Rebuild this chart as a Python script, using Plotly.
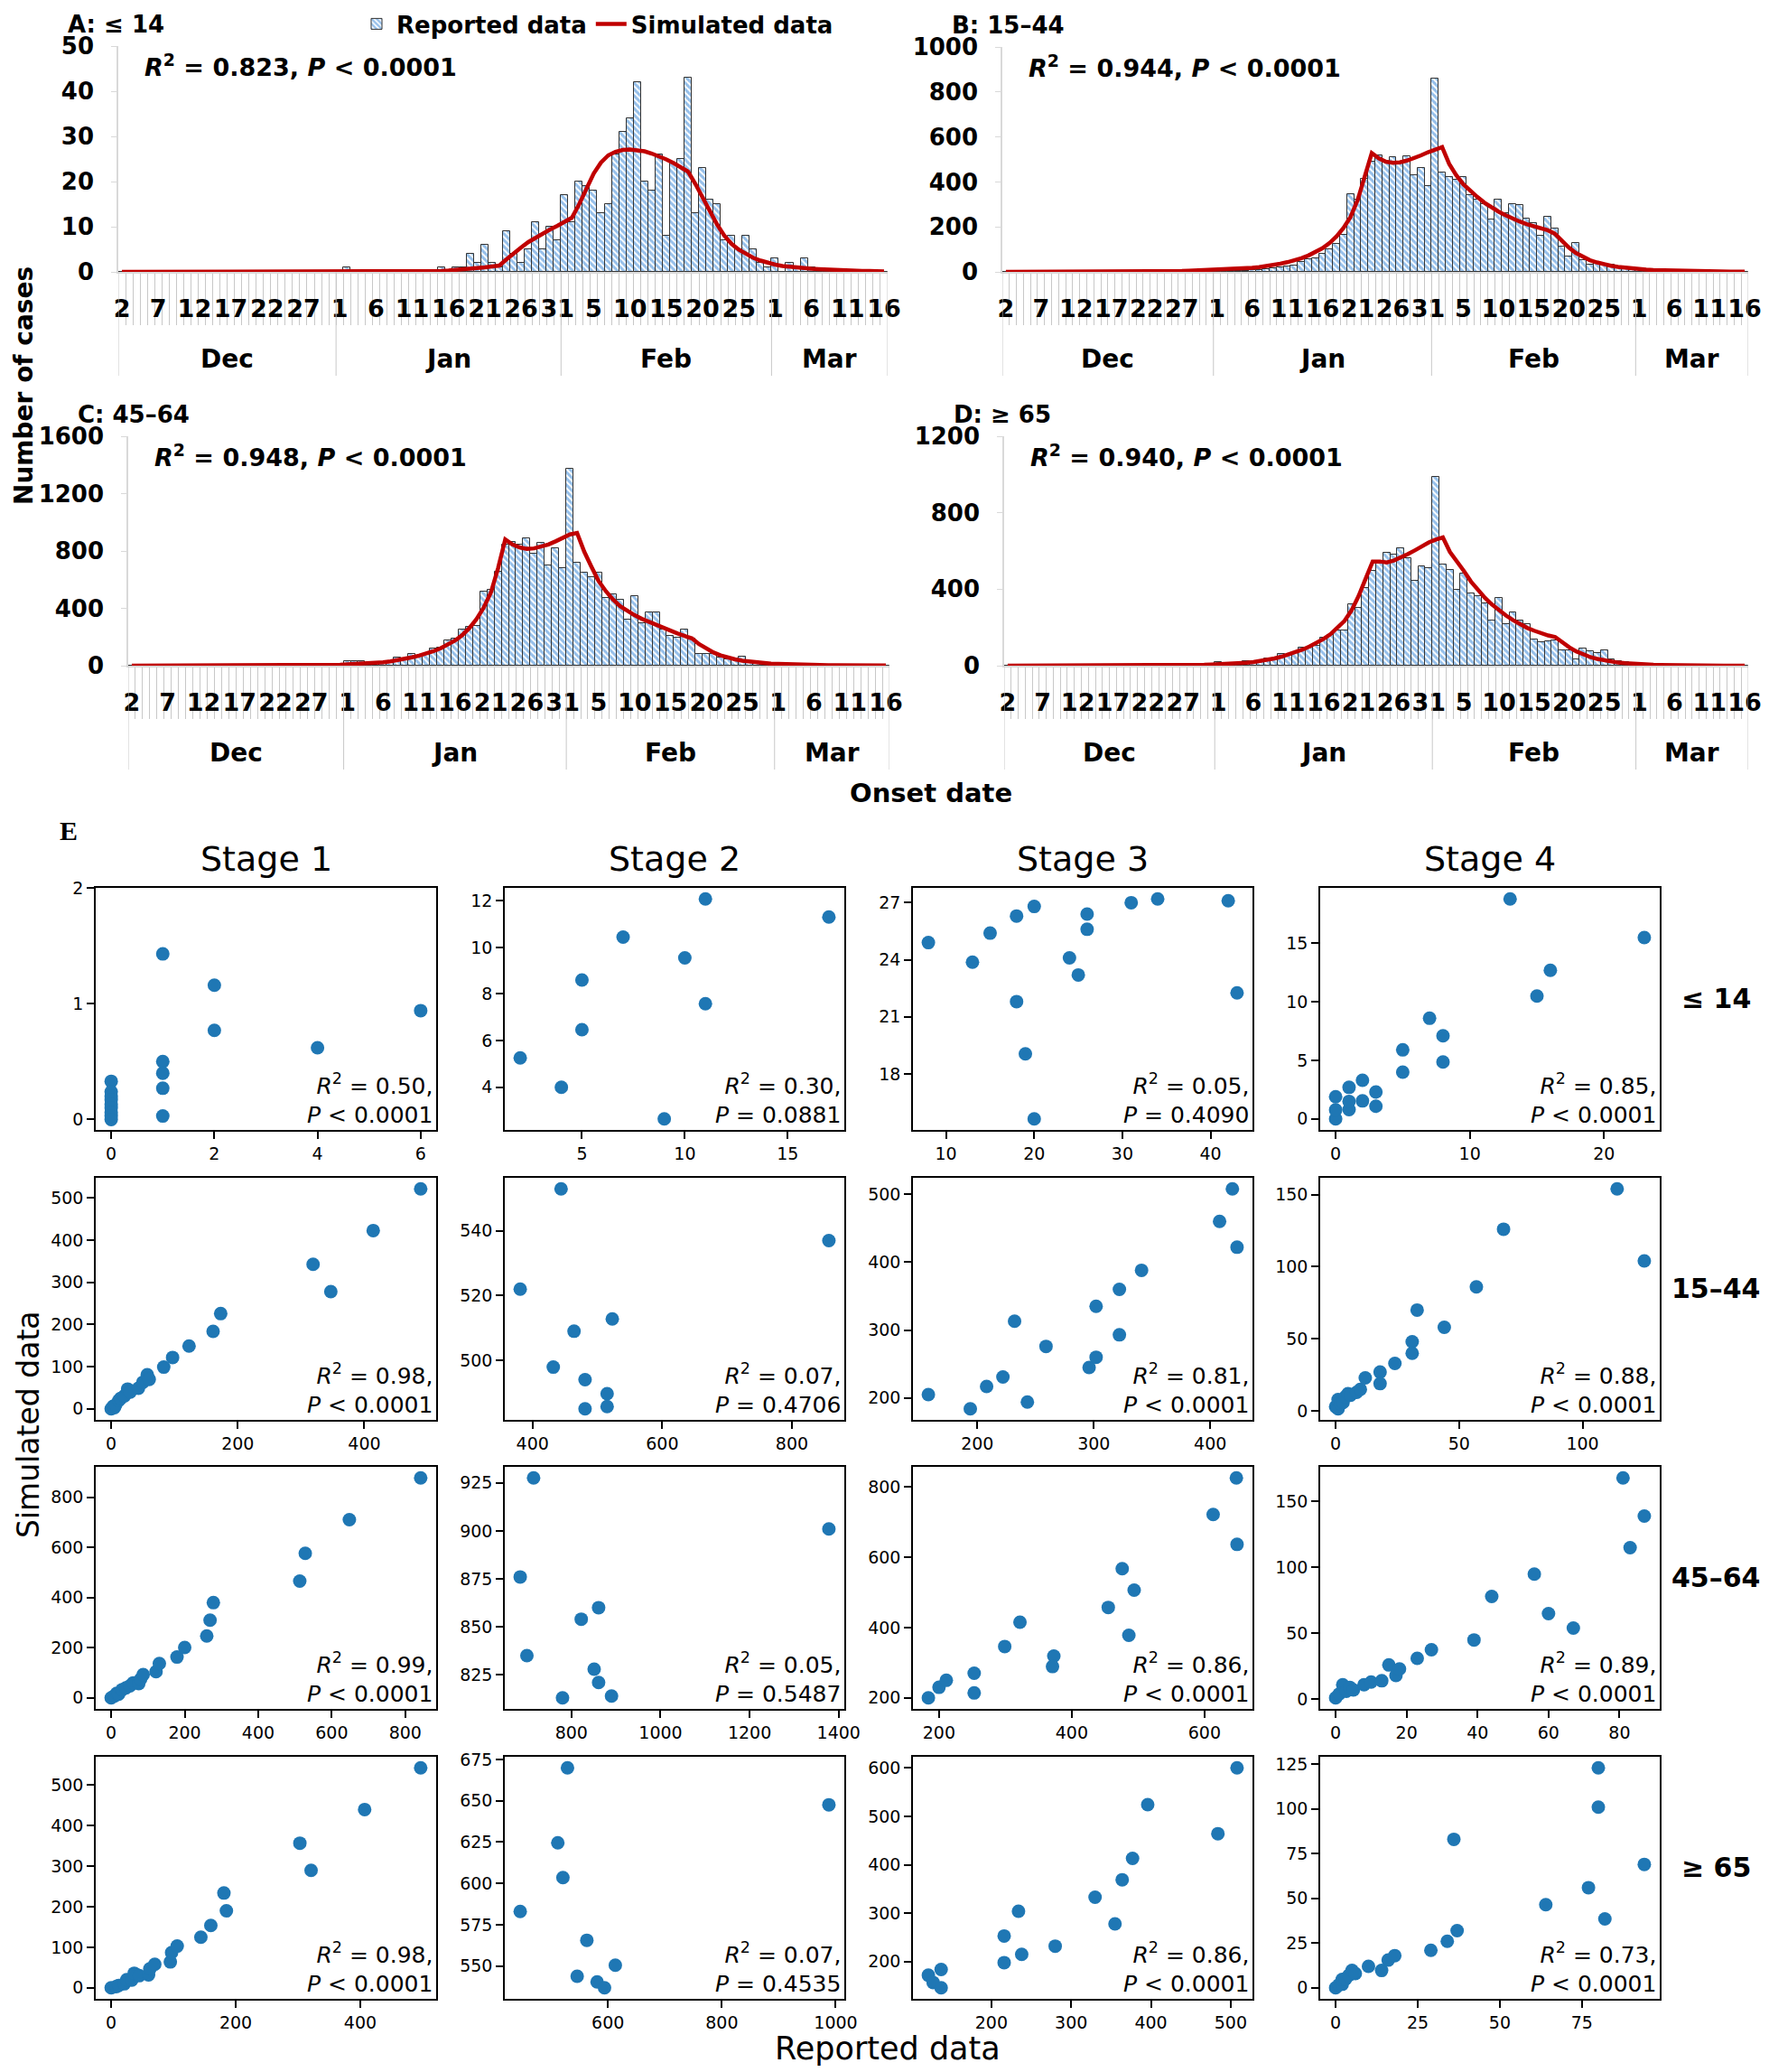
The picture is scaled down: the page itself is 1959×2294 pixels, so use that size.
import pandas as pd
import plotly.graph_objects as go

W, H = 1959, 2294
OFF = 8  # the page body margin shifts the figure by this much
FW, FH = W - OFF, H - OFF

# onset dates shown on the epidemic curves
dates = pd.date_range("2019-12-02", "2020-03-16", freq="D")

# ---- panel A: <= 14 ----
rep_a = [
    0, 0, 0, 0, 0, 0, 0, 0, 0, 0,
    0, 0, 0, 0, 0, 0, 0, 0, 0, 0,
    0, 0, 0, 0, 0, 0, 0, 0, 0, 0,
    0, 1, 0, 0, 0, 0, 0, 0, 0, 0,
    0, 0, 0, 0, 1, 0, 1, 1, 4, 2,
    6, 2, 1, 9, 4, 2, 5, 11, 5, 10,
    7, 17, 11, 20, 19, 18, 13, 15, 26, 31,
    34, 42, 20, 18, 26, 8, 24, 25, 43, 13,
    23, 16, 15, 7, 8, 5, 8, 5, 2, 1,
    3, 0, 2, 1, 3, 1, 0, 0, 0, 0,
    0, 0, 0, 0, 0, 0,
]
sim_a = [
    0, 0, 0, 0, 0, 0, 0, 0, 0, 0,
    0, 0, 0, 0, 0, 0, 0, 0, 0, 0,
    0, 0, 0, 0, 0, 0, 0, 0, 0, 0,
    0, 0, 0, 0, 0, 0, 0, 0, 0, 0,
    0, 0.1, 0.1, 0.2, 0.2, 0.3, 0.4, 0.5, 0.6, 0.8,
    1.0, 1.2, 1.4, 2.8, 4.2, 5.4, 6.6, 7.6, 8.5, 9.4,
    10.2, 11.0, 12.0, 15, 18.5, 21.8, 24.2, 25.8, 26.6, 27.0,
    27.1, 27.0, 26.7, 26.2, 25.6, 24.9, 24.1, 23.2, 22.2, 19.5,
    16.5, 13.2, 10.5, 8.0, 6.2, 4.9, 3.9, 3.1, 2.5, 2.0,
    1.6, 1.3, 1.1, 0.9, 0.8, 0.7, 0.6, 0.5, 0.4, 0.35,
    0.3, 0.25, 0.2, 0.2, 0.15, 0.1,
]

# ---- panel B: 15-44 ----
rep_b = [
    0, 0, 0, 0, 0, 0, 0, 0, 0, 0,
    0, 0, 0, 0, 0, 0, 0, 0, 0, 0,
    0, 0, 0, 0, 0, 0, 0, 0, 0, 0,
    2, 3, 4, 5, 6, 8, 10, 12, 15, 20,
    25, 30, 45, 55, 60, 80, 100, 125, 165, 345,
    320, 415, 490, 520, 485, 510, 485, 515, 430, 460,
    380, 860, 443, 421, 408, 421, 341, 322, 302, 234,
    322, 261, 302, 296, 235, 215, 159, 243, 194, 114,
    67, 127, 53, 31, 44, 31, 31, 24, 20, 15,
    12, 10, 8, 6, 5, 4, 3, 2, 2, 1,
    1, 0, 0, 0, 0, 0,
]
sim_b = [
    0, 0, 0, 0, 0, 0, 0, 0, 0, 0,
    0, 0, 0, 0, 0, 0, 1, 1, 1, 1,
    2, 2, 3, 3, 4, 4, 5, 6, 7, 8,
    9, 10, 12, 14, 16, 18, 21, 25, 30, 36,
    43, 51, 61, 73, 87, 105, 128, 158, 196, 245,
    320, 420, 528, 505, 490, 485, 487, 495, 505, 518,
    532, 545, 555, 480, 430, 390, 360, 333, 308, 287,
    268, 252, 237, 224, 212, 202, 193, 185, 170, 138,
    108, 84, 66, 52, 42, 33, 27, 22, 18, 15,
    12, 10, 8, 7, 6, 5, 4, 3, 3, 2,
    2, 2, 1, 1, 1, 1,
]

# ---- panel C: 45-64 ----
rep_c = [
    0, 0, 0, 0, 0, 0, 0, 0, 0, 0,
    0, 0, 0, 0, 0, 0, 0, 0, 0, 0,
    0, 0, 0, 0, 0, 0, 0, 0, 0, 0,
    30, 30, 30, 10, 25, 20, 30, 55, 45, 80,
    65, 85, 120, 125, 175, 190, 255, 270, 280, 516,
    530, 652, 846, 863, 846, 886, 779, 859, 699, 821,
    678, 1372, 716, 646, 615, 648, 474, 495, 457, 322,
    484, 299, 372, 372, 253, 210, 198, 250, 190, 80,
    84, 80, 55, 42, 52, 63, 31, 25, 20, 15,
    12, 10, 8, 6, 5, 4, 3, 2, 2, 1,
    0, 0, 0, 0, 0, 0,
]
sim_c = [
    0, 0, 0, 0, 0, 0, 0, 0, 0, 0,
    0, 0, 0, 0, 0, 0, 0, 0, 0, 0,
    1, 1, 2, 2, 3, 3, 4, 5, 6, 7,
    9, 11, 13, 16, 19, 24, 30, 38, 47, 58,
    70, 84, 101, 121, 146, 175, 213, 262, 325, 405,
    510, 680, 880, 845, 825, 815, 818, 828, 845, 867,
    893, 915, 926, 795, 690, 590, 520, 462, 415, 380,
    352, 327, 305, 283, 263, 245, 225, 207, 190, 150,
    118, 92, 72, 56, 44, 35, 28, 22, 18, 14,
    12, 10, 8, 7, 6, 5, 4, 3, 3, 2,
    2, 2, 1, 1, 1, 1,
]

# ---- panel D: >= 65 ----
rep_d = [
    0, 0, 0, 0, 0, 0, 0, 0, 0, 0,
    0, 0, 0, 0, 0, 0, 0, 0, 0, 0,
    0, 0, 0, 0, 0, 0, 0, 0, 0, 0,
    20, 10, 15, 12, 25, 15, 20, 40, 40, 63,
    51, 71, 95, 95, 103, 145, 161, 182, 182, 321,
    303, 407, 494, 534, 592, 580, 613, 561, 445, 521,
    510, 987, 527, 502, 395, 482, 376, 363, 324, 234,
    352, 218, 280, 237, 216, 138, 122, 126, 134, 79,
    79, 35, 92, 76, 66, 82, 35, 24, 19, 12,
    8, 6, 5, 4, 3, 2, 2, 1, 0, 0,
    0, 0, 0, 0, 0, 0,
]
sim_d = [
    0, 0, 0, 0, 0, 0, 0, 0, 0, 0,
    0, 0, 0, 0, 0, 0, 0, 0, 0, 0,
    1, 1, 1, 2, 2, 2, 3, 4, 5, 6,
    7, 8, 10, 12, 15, 19, 24, 30, 38, 47,
    58, 70, 84, 100, 118, 140, 165, 198, 235, 290,
    365, 455, 545, 545, 540, 550, 565, 583, 603, 625,
    645, 660, 671, 595, 548, 495, 440, 395, 355, 320,
    290, 262, 238, 216, 198, 183, 170, 158, 150, 122,
    96, 75, 58, 45, 35, 27, 21, 16, 13, 10,
    8, 6, 5, 4, 3, 3, 2, 2, 1, 1,
    1, 1, 0, 0, 0, 0,
]

curve_titles = ["A: ≤ 14", "B: 15–44", "C: 45–64", "D: ≥ 65"]
curve_r2 = ["0.823", "0.944", "0.948", "0.940"]
curve_ymax = [50, 1000, 1600, 1200]
curve_ystep = [10, 200, 400, 400]

# ---- panel E: reported (x) vs simulated (y), by stage ----
rep_14_s1 = [0, 0, 0, 0, 0, 0, 0, 0, 0, 1, 1, 1, 1, 1, 2, 2, 4, 6]
sim_14_s1 = [0.33, 0.24, 0.20, 0.17, 0.13, 0.10, 0.06, 0.03, 0.0, 1.43, 0.50, 0.40, 0.27, 0.03, 1.16, 0.77, 0.62, 0.94]
rep_14_s2 = [2, 4, 5, 5, 7, 9, 10, 11, 11, 17]
sim_14_s2 = [5.26, 4.0, 8.6, 6.47, 10.44, 2.64, 9.55, 12.08, 7.58, 11.3]
rep_14_s3 = [8, 13, 15, 18, 18, 19, 20, 20, 24, 25, 26, 26, 31, 34, 42, 43]
sim_14_s3 = [24.9, 23.87, 25.4, 26.3, 21.8, 19.05, 26.8, 15.63, 24.1, 23.2, 26.4, 25.6, 27.0, 27.2, 27.1, 22.26]
rep_14_s4 = [0, 0, 0, 1, 1, 1, 2, 2, 3, 3, 5, 5, 7, 8, 8, 13, 15, 16, 23]
sim_14_s4 = [0, 0.77, 1.9, 0.8, 1.5, 2.7, 1.54, 3.3, 1.08, 2.3, 4.0, 5.9, 8.6, 7.1, 4.87, 18.8, 10.5, 12.7, 15.5]

rep_44_s1 = [0, 3, 5, 7, 12, 15, 21, 26, 30, 43, 50, 57, 60, 83, 97, 123, 161, 173, 319, 347, 414, 489]
sim_44_s1 = [0, 6, 3, 9, 20, 25, 31, 47, 40, 49, 63, 81, 70, 99, 122, 149, 184, 226, 343, 278, 423, 522]
rep_44_s2 = [381, 444, 432, 464, 481, 481, 515, 515, 523, 857]
sim_44_s2 = [522, 553, 497.9, 509, 494, 485, 489.7, 485.7, 512.8, 537]
rep_44_s3 = [158, 194, 208, 222, 232, 243, 259, 296, 302, 302, 322, 322, 341, 408, 419, 423]
sim_44_s3 = [205, 184, 217, 231, 313, 194, 276, 245, 260, 335, 360, 293, 388, 460, 508, 422]
rep_44_s4 = [0, 1, 1, 2, 3, 4, 5, 6, 8.5, 10, 12, 18, 18, 24, 31, 31, 33, 44, 57, 68, 114, 125]
sim_44_s4 = [3, 1.5, 8, 5, 6, 10, 12, 11, 13, 15, 23, 27, 19, 33, 48, 40, 70, 58, 86, 126, 154, 104]

rep_64_s1 = [0, 9, 15, 20, 30, 40, 51, 60, 75, 80, 87, 122, 131, 179, 200, 260, 269, 278, 513, 528, 648, 842]
sim_64_s1 = [0, 8, 18, 15, 33, 40, 48, 60, 57, 75, 93, 105, 137, 163, 201, 247, 310, 380, 466, 577, 711, 878]
rep_64_s2 = [685, 715, 700, 780, 822, 861, 851, 861, 890, 1378]
sim_64_s2 = [876, 927.6, 835, 813, 854, 860, 828, 821, 814, 901]
rep_64_s3 = [184, 200, 211, 253, 253, 299, 322, 373, 371, 455, 476, 494, 486, 613, 648, 649]
sim_64_s3 = [200, 230, 250, 270, 214, 346, 415, 319, 289, 457, 567, 506, 378, 721, 825, 636]
rep_64_s4 = [0, 1, 2, 3, 4, 5, 8, 10, 13, 15, 17, 18, 23, 27, 39, 44, 56, 60, 67, 81, 83, 87]
sim_64_s4 = [1, 4, 11, 6, 9, 7, 11, 13, 14, 26, 18, 23, 31, 37.5, 45, 78, 95, 65, 54, 168, 115, 139]

rep_65_s1 = [0, 8, 12, 21, 25, 33, 37, 45, 60, 62, 70, 95, 97, 106, 144, 160, 185, 181, 321, 303, 407, 497]
sim_65_s1 = [0, 3, 6, 10, 20, 19, 36, 30, 32, 47, 58, 64, 87, 103, 125, 154, 190, 234, 290, 357, 440, 543]
rep_65_s2 = [446, 529, 512, 521, 563, 546, 581, 594, 613, 988]
sim_65_s2 = [583, 670, 624.6, 603.5, 565.6, 543.8, 540.4, 536.8, 550.5, 647.6]
rep_65_s3 = [508, 396, 484, 377, 364, 330, 355, 234, 216, 280, 238, 216, 137, 121, 127, 137]
sim_65_s3 = [600, 524, 464, 413, 369, 333, 278, 304, 253, 232, 215, 198, 184, 172, 157, 146]
rep_65_s4 = [0, 1, 2, 2, 3, 4, 5, 6, 10, 14, 16, 18, 29, 34, 37, 36, 64, 77, 82, 80, 80, 94]
sim_65_s4 = [0, 1.7, 2, 4.7, 5, 7, 9.7, 8, 12, 9.7, 15.5, 18, 21, 26, 32, 83, 46.5, 56, 38.5, 101, 123, 69]

stage_names = ["Stage 1", "Stage 2", "Stage 3", "Stage 4"]
age_names = ["≤ 14", "15–44", "45–64", "≥ 65"]

r2_values = [
    ["0.50", "0.30", "0.05", "0.85"],
    ["0.98", "0.07", "0.81", "0.88"],
    ["0.99", "0.05", "0.86", "0.89"],
    ["0.98", "0.07", "0.86", "0.73"],
]
p_values = [
    ["&lt; 0.0001", "= 0.0881", "= 0.4090", "&lt; 0.0001"],
    ["&lt; 0.0001", "= 0.4706", "&lt; 0.0001", "&lt; 0.0001"],
    ["&lt; 0.0001", "= 0.5487", "&lt; 0.0001", "&lt; 0.0001"],
    ["&lt; 0.0001", "= 0.4535", "&lt; 0.0001", "&lt; 0.0001"],
]
x_ticks = [
    [[0, 2, 4, 6], [5, 10, 15], [10, 20, 30, 40], [0, 10, 20]],
    [[0, 200, 400], [400, 600, 800], [200, 300, 400], [0, 50, 100]],
    [[0, 200, 400, 600, 800], [800, 1000, 1200, 1400], [200, 400, 600], [0, 20, 40, 60, 80]],
    [[0, 200, 400], [600, 800, 1000], [200, 300, 400, 500], [0, 25, 50, 75]],
]
y_ticks = [
    [[0, 1, 2], [4, 6, 8, 10, 12], [18, 21, 24, 27], [0, 5, 10, 15]],
    [[0, 100, 200, 300, 400, 500], [500, 520, 540], [200, 300, 400, 500], [0, 50, 100, 150]],
    [[0, 200, 400, 600, 800], [825, 850, 875, 900, 925], [200, 400, 600, 800], [0, 50, 100, 150]],
    [[0, 100, 200, 300, 400, 500], [550, 575, 600, 625, 650, 675], [200, 300, 400, 500, 600], [0, 25, 50, 75, 100, 125]],
]

reported = [rep_a, rep_b, rep_c, rep_d]
simulated = [sim_a, sim_b, sim_c, sim_d]
scatter_x = [
    [rep_14_s1, rep_14_s2, rep_14_s3, rep_14_s4],
    [rep_44_s1, rep_44_s2, rep_44_s3, rep_44_s4],
    [rep_64_s1, rep_64_s2, rep_64_s3, rep_64_s4],
    [rep_65_s1, rep_65_s2, rep_65_s3, rep_65_s4],
]
scatter_y = [
    [sim_14_s1, sim_14_s2, sim_14_s3, sim_14_s4],
    [sim_44_s1, sim_44_s2, sim_44_s3, sim_44_s4],
    [sim_64_s1, sim_64_s2, sim_64_s3, sim_64_s4],
    [sim_65_s1, sim_65_s2, sim_65_s3, sim_65_s4],
]

# layout in page pixels (left, right, top, bottom)
curve_boxes = [(131, 983, 51, 301), (1110, 1936, 52, 301), (142, 985, 483, 737), (1112, 1936, 483, 737)]
col_px = [(106, 483), (559, 935), (1011, 1387), (1462, 1838)]
row_px = [(983, 1251), (1304, 1572), (1624, 1892), (1945, 2213)]

BOLD = dict(family="DejaVu Sans", color="black", weight="bold")
REG = dict(family="DejaVu Sans", color="black")


def fx(px):
    return (px - OFF) / FW


def fy(py):
    return 1 - (py - OFF) / FH


def pad_range(vals):
    lo, hi = min(vals), max(vals)
    return [lo - 0.05 * (hi - lo), hi + 0.05 * (hi - lo)]


def label(px, py, text, font, **kw):
    d = dict(xref="paper", yref="paper", x=fx(px), y=fy(py), text=text, showarrow=False,
             xanchor="center", yanchor="middle", font=font)
    d.update(kw)
    return d


fig = go.Figure()
annotations = []
shapes = []
layout = {}

day_idx = list(range(len(dates)))
label_idx = day_idx[::5]
label_txt = [str(d.day) for d in dates[::5]]
months = pd.Series(day_idx, index=dates).groupby(dates.to_period("M"))

for k in range(4):
    xa = "x" if k == 0 else f"x{k + 1}"
    ya = "y" if k == 0 else f"y{k + 1}"
    left, right, top, bottom = curve_boxes[k]
    height = bottom - top

    fig.add_trace(go.Bar(
        x=day_idx, y=reported[k], xaxis=xa, yaxis=ya, name="Reported data",
        legendgroup="rep", showlegend=(k == 0),
        marker=dict(color="white", line=dict(color="#333333", width=1),
                    pattern=dict(shape="\\", fgcolor="#2b7fd6", bgcolor="#ffffff", size=5, solidity=0.6)),
    ))
    fig.add_trace(go.Scatter(
        x=day_idx, y=simulated[k], xaxis=xa, yaxis=ya, name="Simulated data", mode="lines",
        legendgroup="sim", showlegend=(k == 0),
        line=dict(color="#c00000", width=4.5),
    ))

    key = "xaxis" if k == 0 else f"xaxis{k + 1}"
    layout[key] = dict(
        domain=[fx(left), fx(right)], anchor=ya, range=[-0.5, len(dates) - 0.5],
        showline=True, linecolor="#d9d9d9", linewidth=1.5, showgrid=False, zeroline=False,
        tickmode="array", tickvals=label_idx, ticktext=label_txt, ticks="", tickangle=0,
        ticklabelstandoff=16, tickfont=dict(size=27, **BOLD),
        minor=dict(tickmode="array", tickvals=[i - 0.5 for i in day_idx[1:]],
                   ticks="outside", ticklen=57, tickcolor="#c8c8c8", tickwidth=1),
    )
    ykey = "yaxis" if k == 0 else f"yaxis{k + 1}"
    layout[ykey] = dict(
        domain=[fy(bottom), fy(top)], anchor=xa, range=[0, curve_ymax[k]],
        tickmode="linear", tick0=0, dtick=curve_ystep[k],
        showline=True, linecolor="#d9d9d9", linewidth=1.5, showgrid=False, zeroline=False,
        ticks="outside", ticklen=6, tickcolor="#d9d9d9", ticklabelstandoff=14,
        tickfont=dict(size=26, **BOLD),
    )

    # month separators and names under the day labels
    for period, grp in months:
        first, last = grp.iloc[0], grp.iloc[-1]
        shapes.append(dict(type="line", xref=xa, yref=f"{ya} domain", x0=first - 0.5, x1=first - 0.5,
                           y0=0, y1=-115 / height, line=dict(color="#c8c8c8", width=1)))
        annotations.append(dict(xref=xa, yref=f"{ya} domain", x=(first + last) / 2, y=-97 / height,
                                text=period.strftime("%b"), showarrow=False, xanchor="center",
                                yanchor="middle", font=dict(size=28, **BOLD)))
    shapes.append(dict(type="line", xref=xa, yref=f"{ya} domain", x0=len(dates) - 0.5, x1=len(dates) - 0.5,
                       y0=0, y1=-115 / height, line=dict(color="#c8c8c8", width=1)))

    annotations.append(label(left - 58, top - 24, curve_titles[k], dict(size=26, **BOLD), xanchor="left"))
    annotations.append(label(left + 27, top + 22,
                             f"<i>R</i><sup>2</sup> = {curve_r2[k]}, <i>P</i> &lt; 0.0001",
                             dict(size=27, **BOLD), xanchor="left"))

annotations.append(label(26, 427, "Number of cases", dict(size=28, **BOLD), textangle=-90))
annotations.append(label(1031, 878, "Onset date", dict(size=29, **BOLD)))

# ---- scatter grid ----
for r in range(4):
    for c in range(4):
        n = 5 + r * 4 + c
        xs, ys = scatter_x[r][c], scatter_y[r][c]
        fig.add_trace(go.Scatter(
            x=xs, y=ys, mode="markers", xaxis=f"x{n}", yaxis=f"y{n}", showlegend=False,
            marker=dict(color="#1f77b4", size=15),
        ))
        yr = pad_range(ys)
        if r == 0 and c == 0:
            yr = [-0.09, 2.0]
        common = dict(showline=True, mirror=True, linecolor="black", linewidth=1.5,
                      showgrid=False, zeroline=False, ticks="outside", ticklen=8, tickwidth=1.5,
                      tickcolor="black", tickfont=dict(size=19, **REG), tickmode="array")
        layout[f"xaxis{n}"] = dict(domain=[fx(col_px[c][0]), fx(col_px[c][1])], anchor=f"y{n}",
                                   range=pad_range(xs), tickvals=x_ticks[r][c], **common)
        layout[f"yaxis{n}"] = dict(domain=[fy(row_px[r][1]), fy(row_px[r][0])], anchor=f"x{n}",
                                   range=yr, tickvals=y_ticks[r][c], **common)
        annotations.append(dict(xref=f"x{n} domain", yref=f"y{n} domain", x=0.995, y=0.0,
                                xanchor="right", yanchor="bottom", align="right", showarrow=False,
                                text=f"<i>R</i><sup>2</sup> = {r2_values[r][c]},<br><i>P</i> {p_values[r][c]}",
                                font=dict(size=25, **REG)))

for c in range(4):
    annotations.append(label(sum(col_px[c]) / 2, 951, stage_names[c], dict(size=38, **REG)))
for r in range(4):
    annotations.append(label(1900, sum(row_px[r]) / 2 - 12, age_names[r], dict(size=30, **BOLD)))

annotations.append(label(31, 1577, "Simulated data", dict(size=33, **REG), textangle=-90))
annotations.append(label(983, 2268, "Reported data", dict(size=35, **REG)))
annotations.append(label(76, 919, "<b>E</b>", dict(size=30, family="Liberation Serif", color="black")))

fig.update_layout(
    width=FW, height=FH, margin=dict(l=0, r=0, t=0, b=0, autoexpand=False),
    paper_bgcolor="white", plot_bgcolor="white", bargap=0,
    legend=dict(orientation="h", x=fx(395), y=fy(3), xanchor="left", yanchor="top",
                font=dict(size=26, **BOLD), bgcolor="rgba(0,0,0,0)", itemwidth=34),
    annotations=annotations, shapes=shapes, **layout,
)

fig.write_html("out.html")
